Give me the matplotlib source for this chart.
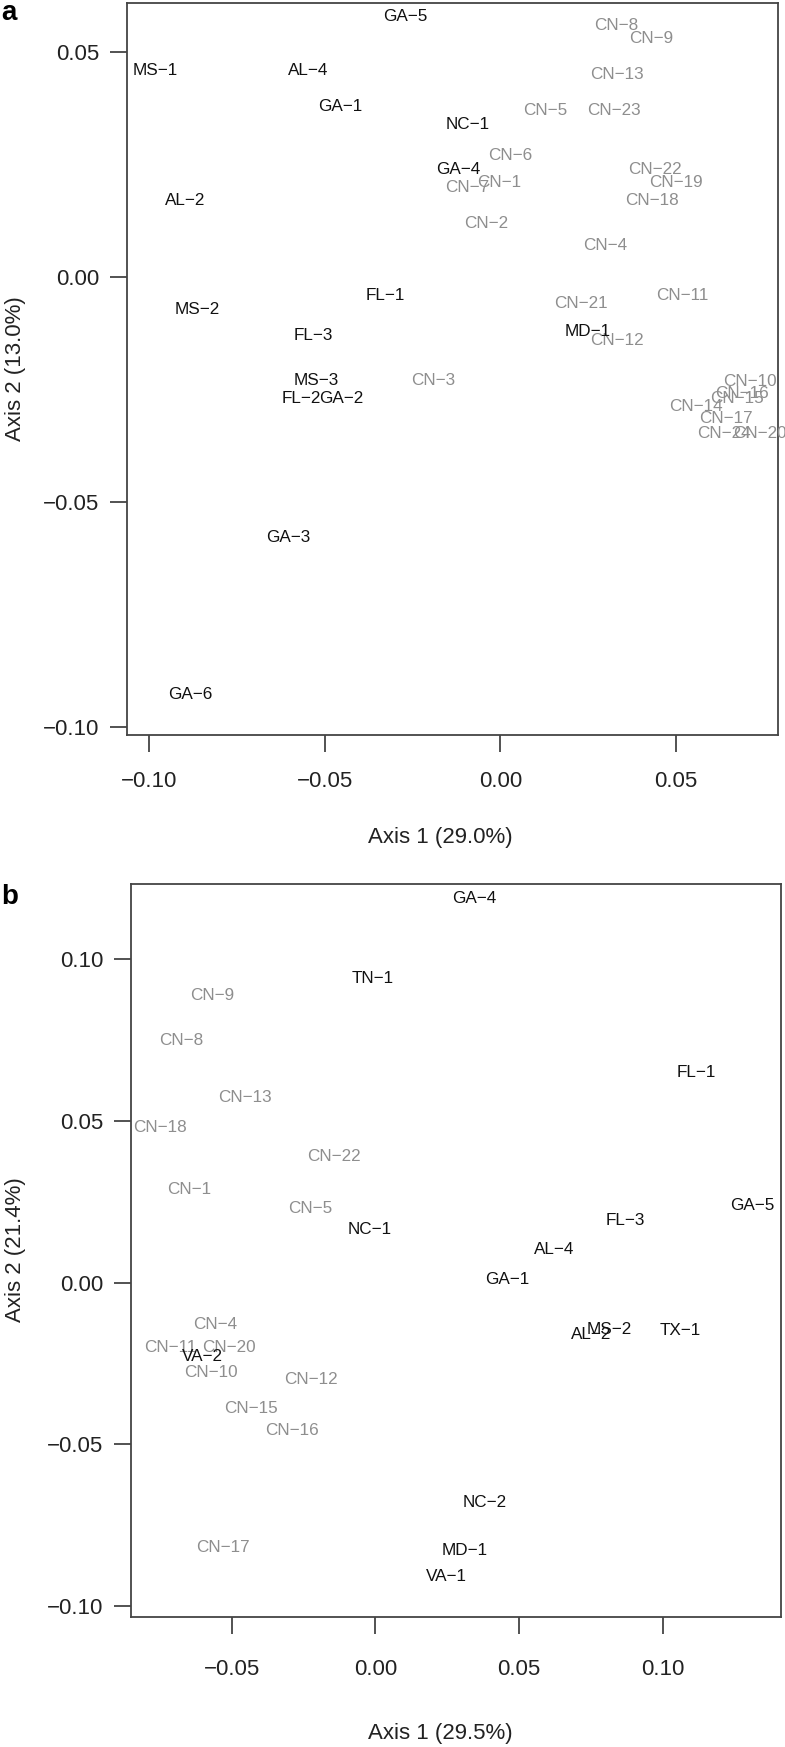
import matplotlib
matplotlib.use('Agg')
import matplotlib.pyplot as plt

plt.rcParams['font.family'] = ['Liberation Sans', 'DejaVu Sans']

# panel a: ordination scores
a_names = ['CN-1', 'CN-2', 'CN-3', 'CN-4', 'CN-5', 'CN-6', 'CN-7', 'CN-8', 'CN-9',
           'CN-10', 'CN-11', 'CN-12', 'CN-13', 'CN-14', 'CN-15', 'CN-16', 'CN-17',
           'CN-18', 'CN-19', 'CN-20', 'CN-21', 'CN-22', 'CN-23', 'CN-24',
           'GA-5', 'MS-1', 'AL-4', 'GA-1', 'NC-1', 'GA-4', 'AL-2', 'FL-1', 'MS-2',
           'FL-3', 'MD-1', 'MS-3', 'FL-2', 'GA-2', 'GA-3', 'GA-6']
a_x = [-0.0003, -0.0042, -0.0192, 0.0298, 0.0128, 0.0028, -0.0095, 0.0329, 0.0429,
       0.0709, 0.0519, 0.0331, 0.0331, 0.0557, 0.0674, 0.0687, 0.0642,
       0.0431, 0.0500, 0.0738, 0.0230, 0.0441, 0.0322, 0.0637,
       -0.0272, -0.0984, -0.0547, -0.0455, -0.0094, -0.0121, -0.0898, -0.0327, -0.0863,
       -0.0534, 0.0249, -0.0523, -0.0568, -0.0452, -0.0604, -0.0884]
a_y = [0.0209, 0.0120, -0.0229, 0.0069, 0.0369, 0.0270, 0.0199, 0.0559, 0.0530,
       -0.0233, -0.0041, -0.0141, 0.0450, -0.0288, -0.0270, -0.0258, -0.0315,
       0.0171, 0.0210, -0.0348, -0.0059, 0.0239, 0.0369, -0.0348,
       0.0580, 0.0459, 0.0459, 0.0380, 0.0339, 0.0239, 0.0171, -0.0041, -0.0072,
       -0.0131, -0.0122, -0.0229, -0.0270, -0.0270, -0.0578, -0.0929]

# panel b
b_names = ['CN-9', 'CN-8', 'CN-13', 'CN-18', 'CN-22', 'CN-1', 'CN-5', 'CN-4', 'CN-11',
           'CN-20', 'CN-10', 'CN-12', 'CN-15', 'CN-16', 'CN-17',
           'GA-4', 'TN-1', 'FL-1', 'GA-5', 'FL-3', 'NC-1', 'AL-4', 'GA-1', 'AL-2',
           'MS-2', 'TX-1', 'VA-2', 'NC-2', 'MD-1', 'VA-1']
b_x = [-0.0566, -0.0676, -0.0453, -0.0749, -0.0143, -0.0648, -0.0227, -0.0557, -0.0714,
       -0.0510, -0.0571, -0.0223, -0.0432, -0.0291, -0.0531,
       0.0344, -0.0009, 0.1116, 0.1313, 0.0869, -0.0018, 0.0622, 0.0460, 0.0751,
       0.0813, 0.1061, -0.0601, 0.0382, 0.0312, 0.0246]
b_y = [0.0889, 0.0750, 0.0572, 0.0480, 0.0391, 0.0289, 0.0230, -0.0129, -0.0199,
       -0.0199, -0.0278, -0.0299, -0.0389, -0.0458, -0.0819,
       0.1188, 0.0941, 0.0651, 0.0238, 0.0191, 0.0163, 0.0103, 0.0010, -0.0159,
       -0.0145, -0.0149, -0.0229, -0.0679, -0.0827, -0.0908]

a_xticks = [-0.10, -0.05, 0.00, 0.05]
a_yticks = [-0.10, -0.05, 0.00, 0.05]
b_xticks = [-0.05, 0.00, 0.05, 0.10]
b_yticks = [-0.10, -0.05, 0.00, 0.05, 0.10]

W, H = 785, 1747
fig = plt.figure(figsize=(W / 100, H / 100), dpi=100)


def make_axes(l, r, t, b):
    return fig.add_axes([l / W, 1 - b / H, (r - l) / W, (b - t) / H])


def fmt(v):
    return ('%.2f' % v).replace('-', '\u2212')


def draw(ax, names, xs, ys, xlim, ylim, xticks, yticks, xpad):
    for n, x, y in zip(names, xs, ys):
        col = '#8e8e8e' if n.startswith('CN') else '#111111'
        ax.text(x, y, n.replace('-', '\u2212'), color=col, fontsize=12.3,
                ha='center', va='center', clip_on=False)
    ax.set_xlim(*xlim)
    ax.set_ylim(*ylim)
    ax.set_xticks(xticks)
    ax.set_yticks(yticks)
    ax.set_xticklabels([fmt(v) for v in xticks])
    ax.set_yticklabels([fmt(v) for v in yticks])
    for s in ax.spines.values():
        s.set_color('#444444')
        s.set_linewidth(1.3)
    ax.tick_params(axis='both', length=12, width=1.3, color='#444444',
                   labelsize=16, labelcolor='#222222')
    ax.tick_params(axis='x', pad=xpad)
    ax.tick_params(axis='y', pad=8)


ax1 = make_axes(127, 778, 3, 735)
draw(ax1, a_names, a_x, a_y, (-0.1063, 0.079), (-0.1018, 0.0609),
     a_xticks, a_yticks, 14)
ax2 = make_axes(131, 781, 884, 1617)
draw(ax2, b_names, b_x, b_y, (-0.085, 0.1412), (-0.1034, 0.1233),
     b_xticks, b_yticks, 18)

fig.text(440 / W, 1 - 838 / H, 'Axis 1 (29.0%)', fontsize=16, color='#222222',
         ha='center', va='center')
fig.text(440 / W, 1 - 1733 / H, 'Axis 1 (29.5%)', fontsize=16, color='#222222',
         ha='center', va='center')
fig.text(16 / W, 1 - 369 / H, 'Axis 2 (13.0%)', fontsize=16, color='#222222',
         ha='center', va='center', rotation=90)
fig.text(16 / W, 1 - 1250 / H, 'Axis 2 (21.4%)', fontsize=16, color='#222222',
         ha='center', va='center', rotation=90)
fig.text(9 / W, 1 - 13 / H, 'a', fontsize=20, fontweight='bold',
         ha='center', va='center')
fig.text(10 / W, 1 - 897 / H, 'b', fontsize=20, fontweight='bold',
         ha='center', va='center')

fig.savefig('out.png', dpi=100)
